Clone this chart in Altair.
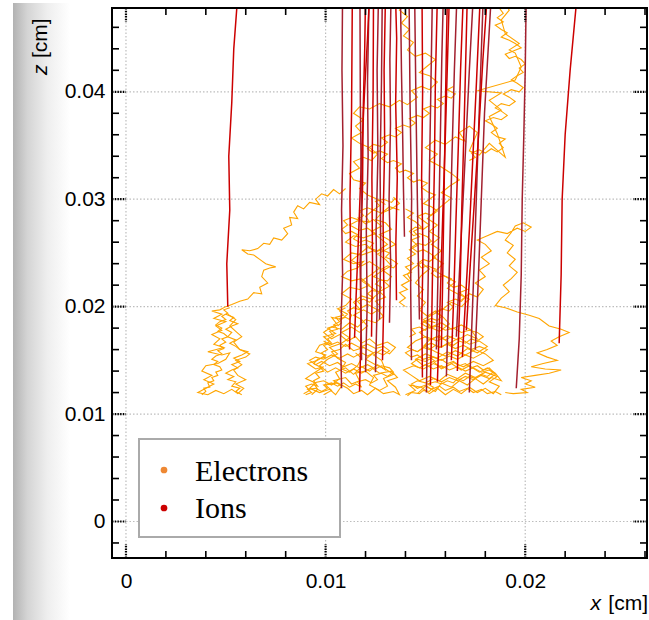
import altair as alt
import pandas as pd

# ---------------- axes / ticks (cm) ----------------
X_DOMAIN = [-0.0007, 0.0261]
Z_DOMAIN = [-0.0034, 0.0478]
X_MAJOR = [0.0, 0.01, 0.02]
Z_MAJOR = [0.0, 0.01, 0.02, 0.03, 0.04]
X_MINOR = [0.002, 0.004, 0.006, 0.008, 0.012, 0.014, 0.016, 0.018,
           0.022, 0.024, 0.026]
Z_MINOR = [-0.002, 0.002, 0.004, 0.006, 0.008, 0.012, 0.014, 0.016, 0.018,
           0.022, 0.024, 0.026, 0.028, 0.032, 0.034, 0.036, 0.038,
           0.042, 0.044, 0.046]

LEGEND_LABELS = ["Electrons", "Ions"]
LEGEND_COLORS = ["#ee8833", "#cc0000"]

# ---------------- electron drift paths (x, z in micrometres) ----------------
ELECTRON_1 = [(110,310),(107,305),(104,309),(101,303),(98,305),(95,300),(97,295),(92,297),
              (89,291),(86,294),(84,288),(86,282),(82,283),(83,276),(79,273),(81,268),(78,262),
              (74,264),(72,258),(69,259),(66,254),(62,252),(58,253),(61,249),(64,248),(67,244),
              (70,240),(75,237),(72,236),(69,234),(68,228),(71,222),(67,218),(68,212),(64,213),
              (61,207),(57,205),(53,202),(50,200),(47,197),(43,196),(48,193),(44,189),(50,186),
              (45,182),(48,178),(43,174),(47,170),(44,165),(49,162),(41,158),(48,155),(52,157),
              (50,151),(46,147),(40,145),(38,140),(43,136),(39,132),(44,128),(40,124),(36,120),
              (41,118),(45,122),(49,119),(53,123),(56,119),(59,124),(55,128),(60,132),(56,136),
              (54,141),(58,146),(55,150),(60,153),(62,156),(57,160),(54,167),(58,172),(55,177),
              (52,182),(55,188),(51,193)]
ELECTRON_2 = [(137,290),(132,293),(128,287),(124,290),(120,284),(122,279),(116,280),(112,276),
              (117,271),(121,273),(125,268),(119,264),(114,266),(110,260),(115,256),(120,258),
              (124,252),(118,248),(113,250),(109,244),(114,240),(119,242),(116,236),(111,233),
              (108,228),(113,224),(118,226),(122,220),(117,216),(112,218),(108,212),(113,207),
              (110,201),(106,198),(111,193),(108,188),(103,190),(106,183),(101,180),(105,175),
              (99,172),(102,167),(97,164),(95,158),(100,155),(96,150),(91,147),(95,142),(99,144),
              (94,138),(90,133),(95,129),(92,124),(97,120),(102,123),(105,118),(108,126),(104,131),
              (110,134),(113,128),(117,131),(115,138),(120,140),(124,134),(122,127),(127,122),
              (131,126),(129,133),(134,137),(130,142),(125,146),(120,151),(124,157),(119,162),
              (114,159),(110,165),(107,160),(103,158),(106,152),(110,148),(108,142),(112,139),
              (116,145),(118,152),(115,157)]
ELECTRON_3 = [(99,118),(103,122),(100,127),(106,129),(111,124),(114,119),(118,122),(121,118),
              (125,124),(129,119),(134,121),(137,118),(135,125),(131,131),(136,134),(133,140),
              (127,138),(123,143),(118,138),(114,142),(110,138),(105,143),(101,139),(97,145),
              (101,151),(106,156),(102,162),(108,166),(112,171),(108,176),(113,181),(117,176),
              (121,182),(118,188),(114,192),(119,197),(123,193),(128,199),(125,205),(130,209),
              (127,214),(132,219),(129,224),(124,228),(128,233),(133,238),(130,244),(126,249),
              (131,254),(135,258),(131,263),(127,267),(133,272),(130,278),(125,281),(128,287),
              (133,291),(137,296),(134,302)]
ELECTRON_4 = [(130,295),(126,300),(121,304),(117,310),(120,315),(114,318),(112,324),(117,329),
              (114,335),(119,339),(123,336),(126,342),(122,348),(117,352),(113,357),(118,362),
              (115,368),(119,374),(114,380),(117,386),(122,384),(127,389),(132,386),(137,392),
              (141,388),(146,395),(143,401),(148,405),(152,402),(156,409),(152,415),(147,418),
              (151,424),(155,430),(150,436),(145,433),(141,439),(144,446),(139,452),(142,458),
              (138,464),(141,470),(137,476),(140,482)]
ELECTRON_5 = [(140,118),(145,122),(142,127),(148,125),(152,119),(156,124),(160,118),(164,123),
              (168,119),(172,125),(176,120),(180,124),(184,119),(187,126),(182,130),(186,135),
              (180,139),(175,134),(170,138),(166,133),(161,137),(157,131),(152,135),(147,131),
              (143,136),(139,141),(144,145),(149,142),(154,147),(159,143),(164,148),(169,144),
              (174,149),(179,145),(184,150),(180,156),(175,160),(170,155),(165,159),(160,154),
              (155,158),(150,163),(146,158),(141,162),(145,168),(150,172),(156,168),(161,173),
              (166,169),(171,174),(176,170),(173,178),(168,183),(163,179),(158,185),(153,181),
              (149,188),(154,193),(159,198),(163,204),(168,200),(172,207),(166,212),(161,217),
              (165,223),(160,228),(155,233),(159,240),(154,246),(158,252),(153,258),(157,264),
              (152,270),(156,276),(151,282),(155,289),(159,295),(163,301),(158,306),(162,312),
              (167,318),(163,324),(158,330),(152,336),(156,342),(150,348),(155,355),(160,351),
              (165,358),(170,354),(167,362),(172,368),(176,362),(172,345),(177,341),(182,352),
              (190,339),(186,361),(182,377),(188,383),(182,392),(188,399),(176,401),(195,411),
              (198,423),(195,436),(192,439),(197,445),(190,454),(188,467),(192,476),(190,482)]
ELECTRON_6 = [(168,206),(172,212),(176,209),(179,216),(175,222),(180,228),(177,234),(182,240),
              (178,246),(183,252),(180,258),(176,262),(181,266),(186,270),(191,268),(196,273),
              (200,270),(203,274),(199,278),(195,275),(193,269),(190,262),(194,257),(191,250),
              (195,244),(192,238),(196,232),(193,226),(189,220),(192,214),(188,208),(185,201),
              (190,199),(196,195),(202,192),(207,189),(212,182),(218,179),(222,176),(217,172),
              (213,168),(216,164),(211,160),(206,157),(211,153),(216,150),(209,147),(203,144),
              (210,142),(218,141),(212,138),(205,136),(198,134),(203,131),(200,128),(205,125),
              (198,123),(201,120),(194,119),(190,120)]
ELECTRON_7 = [(146,119),(150,126),(155,121),(158,129),(163,125),(167,131),(171,127),(175,133),
              (179,128),(183,134),(188,131),(185,138),(181,143),(177,139),(172,145),(168,141),
              (163,147),(158,142),(154,149),(149,145),(145,151),(150,156),(156,152),(161,158),
              (166,154),(171,161),(176,157),(181,163),(177,168),(172,165),(167,171),(162,166),
              (157,173),(152,169),(147,176),(152,181),(157,177),(162,184),(159,190),(155,196),
              (151,191),(147,197),(150,204),(146,210),(149,216),(145,222),(148,229),(152,235),
              (148,241),(144,236),(141,230),(143,224)]
ELECTRON_8 = [(93,118),(96,123),(94,129),(99,131),(103,127),(107,133),(105,139),(110,143),
              (114,137),(118,144),(122,140),(126,146),(130,141),(128,150),(124,155),(128,160),
              (132,156),(135,162),(131,167),(126,164),(122,170),(118,166),(115,172),(111,168),
              (107,174),(103,170),(99,176),(103,181),(108,179),(112,185),(116,181),(120,188),
              (125,185),(129,191),(126,197),(121,202),(117,198),(114,204),(118,210),(123,207),
              (127,213),(122,219),(118,224),(123,230),(127,236),(122,242),(118,238),(113,243),
              (117,249),(121,255),(126,252),(131,258),(127,264),(123,270),(128,275),(124,281),
              (120,277),(116,283)]
ELECTRON_9 = [(38,118),(40,121),(39,124),(42,125),(41,129),(44,131),(43,134),(46,136),(45,139),
              (48,141),(47,144),(44,146),(46,149),(43,151),(45,154),(48,156),(46,159),(49,161),
              (47,164),(50,167),(48,170),(51,172),(49,175),(46,177),(48,180),(45,183),(47,186),
              (50,188),(48,191),(51,194),(49,197),(52,199)]
ELECTRON_10 = [(58,118),(55,121),(57,124),(53,126),(55,130),(51,132),(54,135),(50,138),(53,141),
               (56,143),(53,146),(57,149),(54,152),(58,155),(61,158),(57,160),(55,163),(52,166),
               (55,169),(51,172),(53,176),(50,179),(53,182),(56,184),(52,187),(54,190),(50,193)]
ELECTRON_11 = [(90,118),(93,120),(91,123),(95,124),(98,121),(101,124),(99,127),(103,129),
               (106,126),(109,129),(112,125),(115,128),(118,125),(116,130),(120,132),(123,129),
               (126,132),(124,136),(128,138),(131,135),(134,139),(132,143),(128,145),(125,142),
               (121,146),(117,143),(113,147),(109,144),(106,148),(102,145),(98,149),(95,146),
               (92,150),(95,153),(99,151),(103,155),(107,152),(111,156),(114,153),(118,157),
               (121,154),(125,158),(129,155),(132,159),(129,163),(125,161),(121,165),(117,162),
               (113,166),(110,163),(106,167),(102,164),(99,168)]
ELECTRON_12 = [(188,118),(185,121),(181,119),(178,123),(174,120),(171,124),(167,121),(164,125),
               (160,122),(157,126),(153,123),(150,127),(146,124),(143,128),(146,131),(150,129),
               (154,133),(158,130),(162,134),(166,131),(170,135),(174,132),(178,136),(182,133),
               (185,137),(182,141),(178,139),(174,143),(170,140),(166,144),(162,141),(158,145),
               (154,142),(150,146),(147,143),(143,147),(146,151),(150,149),(154,153),(158,150),
               (162,154),(166,151),(170,155),(174,152),(178,156),(181,160),(177,163),(173,160),
               (169,164),(165,161),(161,165),(157,162),(153,166),(149,163),(152,169),(156,172),
               (160,169),(164,173)]
ELECTRON_13 = [(140,200),(137,204),(140,208),(137,213),(141,216),(138,220),(142,224),(139,229),
               (143,232),(140,237),(144,240),(141,245),(145,249),(142,253),(146,257),(143,262),
               (147,265),(144,270),(148,274),(145,279),(141,283),(144,287),(140,291)]
ELECTRON_14 = [(106,182),(108,185),(107,189),(110,190),(112,188),(113,192),(111,196),(114,199),
               (117,197),(118,201),(116,205),(119,207),(122,204),(124,208),(121,212),(123,215),
               (127,214),(128,218),(125,221),(127,225),(131,224),(133,228),(130,232),(128,235),
               (131,238),(134,236),(136,240),(133,244),(130,246),(132,250),(128,253),(125,251),
               (122,255),(124,259),(120,262),(117,260),(114,263),(116,267),(113,270),(110,268),
               (108,272),(111,276),(109,280),(113,283),(116,281),(119,285),(117,289),(121,292),
               (124,290),(127,294),(125,298),(129,300),(133,297),(135,301)]
ELECTRON_15 = [(89,119),(92,122),(90,126),(93,128),(96,126),(94,131),(97,134),(95,138),(99,140),
               (97,144),(94,147),(96,151),(100,153),(98,157),(101,160),(99,164),(103,166),
               (101,170),(104,173),(102,177),(106,179),(104,183),(107,186),(105,190),(109,192),
               (107,196),(110,199)]
ELECTRON_16 = [(142,172),(145,175),(143,179),(147,181),(150,178),(152,183),(149,186),(153,189),
               (156,187),(158,191),(155,195),(158,198),(162,196),(164,200),(161,204),(165,207),
               (168,205),(170,209),(167,213),(171,216),(168,220),(164,218),(161,222),(163,226),
               (159,229),(156,227),(153,231),(155,235),(151,238),(148,236),(146,240),(149,244),
               (152,242),(155,246),(152,250),(149,253),(146,251),(143,255),(146,259),(150,257),
               (153,261),(151,265),(147,268),(144,266),(142,270),(145,274),(149,272),(152,276),
               (149,280),(146,284),(150,287),(153,285),(156,289),(153,293),(149,296),(152,300)]
ELECTRON_17 = [(152,300),(155,304),(151,307),(148,311),(151,315),(147,318),(144,316),(141,320),
               (144,324),(140,327),(137,325),(135,329),(138,333),(134,336),(131,334),(128,338),
               (131,342),(127,345),(124,343),(121,347),(124,351),(128,349),(131,353),(128,357),
               (132,360),(135,358),(138,362),(135,366),(139,369),(142,367),(145,371),(142,375),
               (146,378),(149,376),(152,380),(149,384),(153,387),(156,385),(159,389),(156,393),
               (160,396),(163,394),(165,398),(161,402),(164,405)]
ELECTRON_18 = [(172,336),(175,339),(173,343),(177,346),(180,343),(183,347),(186,344),(189,348),
               (187,352),(190,356),(186,358),(183,362),(186,366),(183,370),(180,373),(184,376),
               (188,374),(191,378),(188,382),(185,385),(188,389),(192,387),(195,391),(192,395),
               (189,398),(193,402),(197,400),(199,404),(196,408),(193,411),(196,415),(199,418),
               (197,422),(200,426),(198,430),(195,433),(192,431),(190,435),(194,438),(198,441),
               (195,445),(192,448),(188,451),(191,455),(188,458),(185,462),(189,465),(186,469),
               (189,473),(187,478),(190,482)]
ELECTRON_19 = [(141,117),(143,120),(147,119),(149,122),(152,121),(154,125),(151,128),(155,130),
               (158,128),(161,131),(164,129),(166,133),(169,131),(172,135),(175,133),(178,137),
               (181,135),(184,139),(182,143),(179,141),(176,145),(173,143),(170,147),(167,145),
               (164,149),(161,147),(158,151),(155,149),(152,153),(149,151),(146,155),(143,153),
               (140,157),(143,160),(146,158),(149,162),(152,160),(155,164),(158,162),(161,166),
               (164,164),(167,168),(170,166),(173,170),(176,168),(179,172),(176,176),(172,178),
               (168,176),(164,180),(160,178),(156,182),(152,180),(148,184),(151,187),(155,185)]
ELECTRON_PATHS = [ELECTRON_1, ELECTRON_2, ELECTRON_3, ELECTRON_4, ELECTRON_5, ELECTRON_6,
                  ELECTRON_7, ELECTRON_8, ELECTRON_9, ELECTRON_10, ELECTRON_11, ELECTRON_12,
                  ELECTRON_13, ELECTRON_14, ELECTRON_15, ELECTRON_16, ELECTRON_17, ELECTRON_18,
                  ELECTRON_19]

# ---------------- ion drift paths (x, z in micrometres) ----------------
ION_PATHS = [
    [(51,200),(50.5,240),(52,290),(51.5,340),(53,390),(54,440),(56,490)],
    [(108,124),(107.5,170),(108.5,230),(108,290),(108.7,350),(108.2,420),(108.5,490)],
    [(117,121),(117.8,180),(117.3,240),(118.5,310),(118.8,380),(119.6,440),(120,490)],
    [(120,139),(120.8,200),(120.4,270),(121.3,340),(121,410),(121.8,490)],
    [(114.5,171),(115.5,220),(116.8,280),(118,340),(119.5,400),(121,450),(122,490)],
    [(125,139),(125.8,200),(125.3,270),(126.2,340),(125.8,420),(126.5,490)],
    [(128.5,150),(129.2,210),(128.8,280),(129.6,350),(129.3,420),(130,490)],
    [(132,185),(132.6,240),(131.8,300),(132.5,370),(132.2,430),(132.8,490)],
    [(135.5,206),(135.2,260),(135.9,320),(135.1,390),(135.6,450),(135,490)],
    [(139.5,265),(139,310),(138.6,360),(138,420),(137.5,490)],
    [(148.5,134),(148.2,190),(148.8,250),(148.1,320),(148.6,400),(148.3,490)],
    [(150.5,120),(151,180),(151.6,250),(152,320),(152.7,400),(153.5,490)],
    [(152.5,127),(153.2,190),(153.8,260),(154.5,330),(155,410),(156,490)],
    [(155.5,160),(156.2,220),(156.8,290),(157.5,360),(158.2,430),(159,490)],
    [(158,162),(158.6,220),(159.2,290),(159.8,360),(160.4,430),(161,490)],
    [(160.5,135),(161.5,200),(162.4,270),(163.3,340),(164.5,420),(165.8,490)],
    [(163,150),(164.2,210),(165.3,280),(166.5,350),(167.6,420),(169,490)],
    [(165.5,172),(167,230),(168.6,290),(170.2,350),(172,420),(174,490)],
    [(168.5,153),(170.2,210),(172,270),(173.8,340),(175.6,410),(177.5,490)],
    [(172,120),(173.4,190),(174.8,260),(176,330),(177.5,410),(179,490)],
    [(170.5,178),(172.5,240),(174.6,300),(176.6,360),(178.8,430),(181,490)],
    [(195.5,124),(197,170),(198,230),(198.5,300),(199.3,360),(200,420),(200.5,490)],
    [(217,166),(218,230),(218.5,300),(220,360),(222.5,420),(226,490)],
    [(147,188),(146.4,250),(145.8,320),(145.2,400),(144.6,490)],
    [(123,172),(123.5,240),(123.2,320),(123.8,400),(124,490)],
    [(127,188),(127.6,250),(127.3,330),(128,410),(128.4,490)],
    [(112,160),(112.6,230),(112.2,300),(113,380),(113.4,490)],
    [(143,150),(142.6,220),(143.1,300),(142.3,390),(141.8,490)],
    [(166,140),(167.3,210),(168.2,290),(169.4,370),(171,490)],
    [(175,160),(176.6,230),(178,300),(179.6,380),(183,490)],
    [(156,130),(157.3,200),(158.6,280),(160,360),(162,490)],
    [(118,150),(117.6,220),(118,300),(117.4,390),(117.2,490)],
]

# ---------------- build tables ----------------
UM_TO_CM = 1e-4
e_rows = []
for i, path in enumerate(ELECTRON_PATHS):
    for j, (x, z) in enumerate(path):
        e_rows.append({"path": f"e{i}", "order": j, "x": x * UM_TO_CM, "z": z * UM_TO_CM})
df_e = pd.DataFrame(e_rows)

ION_SHADES = ["#cc0000", "#a3202f"]
i_rows = []
for i, path in enumerate(ION_PATHS):
    for j, (x, z) in enumerate(path):
        i_rows.append({"path": f"i{i}", "order": j, "x": x * UM_TO_CM, "z": z * UM_TO_CM,
                       "col": ION_SHADES[i % 2]})
df_i = pd.DataFrame(i_rows)

W, H = 535, 550
LABEL_FONT = "Liberation Sans"
xs = alt.Scale(domain=X_DOMAIN, nice=False, zero=False)
zs = alt.Scale(domain=Z_DOMAIN, nice=False, zero=False)
AX_X = alt.Axis(values=X_MAJOR, format="~g", grid=False, domain=False, ticks=False,
                labelFont=LABEL_FONT, labelFontSize=21, labelColor="black",
                labelPadding=12, title=None, zindex=1)
AX_Z = alt.Axis(values=Z_MAJOR, format="~g", grid=False, domain=False, ticks=False,
                labelFont=LABEL_FONT, labelFontSize=21, labelColor="black",
                labelPadding=7, title=None, zindex=1)
X_ENC = alt.X("x:Q", scale=xs, axis=AX_X)
Z_ENC = alt.Y("z:Q", scale=zs, axis=AX_Z)

# gray shading on the far left
shade = alt.Chart(pd.DataFrame({"a": [0]})).mark_rect(
    color=alt.Gradient(gradient="linear",
                       stops=[alt.GradientStop(color="#b2b2b2", offset=0),
                              alt.GradientStop(color="#d4d4d4", offset=0.25),
                              alt.GradientStop(color="#eeeeee", offset=0.6),
                              alt.GradientStop(color="#ffffff", offset=1)],
                       x1=0, x2=1, y1=0, y2=0)
).encode(x=alt.value(-99), x2=alt.value(-42), y=alt.value(-5), y2=alt.value(612))

grid_x = alt.Chart(pd.DataFrame({"x": X_MAJOR})).mark_rule(
    color="#bdbdbd", strokeDash=[1.5, 2], strokeWidth=1.2
).encode(x=X_ENC, y=alt.value(0), y2=alt.value(H))
grid_z = alt.Chart(pd.DataFrame({"z": Z_MAJOR})).mark_rule(
    color="#bdbdbd", strokeDash=[1.5, 2], strokeWidth=1.2
).encode(y=Z_ENC, x=alt.value(0), x2=alt.value(W))

electrons = alt.Chart(df_e).mark_line(color="#ffa500", strokeWidth=1.1, clip=True).encode(
    x=X_ENC, y=Z_ENC, detail="path:N", order="order:Q")

ions = alt.Chart(df_i).mark_line(strokeWidth=1.5, clip=True).encode(
    x=X_ENC, y=Z_ENC, detail="path:N", order="order:Q",
    color=alt.Color("col:N", scale=None))

frame = alt.Chart(pd.DataFrame({"a": [0]})).mark_rect(
    fillOpacity=0, stroke="black", strokeWidth=2
).encode(x=alt.value(0), x2=alt.value(W), y=alt.value(0), y2=alt.value(H))


def xticks(vals, y0, y1, major):
    kw = dict(color="black", strokeWidth=2.2 if major else 1.6)
    if major:
        kw["strokeDash"] = [1.5, 1.2]
    return alt.Chart(pd.DataFrame({"x": vals})).mark_rule(**kw).encode(
        x=X_ENC, y=alt.value(y0), y2=alt.value(y1))


def zticks(vals, x0, x1, major):
    kw = dict(color="black", strokeWidth=2.2 if major else 1.6)
    if major:
        kw["strokeDash"] = [1.5, 1.2]
    return alt.Chart(pd.DataFrame({"z": vals})).mark_rule(**kw).encode(
        y=Z_ENC, x=alt.value(x0), x2=alt.value(x1))


ticks = [
    xticks(X_MINOR, H, H - 7, False), xticks(X_MAJOR, H, H - 14, True),
    xticks(X_MINOR, 0, 7, False), xticks(X_MAJOR, 0, 14, True),
    zticks(Z_MINOR, 0, 7, False), zticks(Z_MAJOR, 0, 14, True),
    zticks(Z_MINOR, W, W - 7, False), zticks(Z_MAJOR, W, W - 14, True),
]


def txt(s, pos, **kw):
    enc = {k: alt.value(v) for k, v in pos.items()}
    return alt.Chart(pd.DataFrame({"t": [s]})).mark_text(**kw).encode(text="t:N", **enc)


titles = [
    txt("z", {"x": -71, "y": 67}, font=LABEL_FONT, fontSize=21, fontStyle="italic",
        angle=270, align="left", baseline="middle", color="black"),
    txt("[cm]", {"x": -71, "y": 50}, font=LABEL_FONT, fontSize=21,
        angle=270, align="left", baseline="middle", color="black"),
    txt("x", {"x": 489, "y": 602}, font=LABEL_FONT, fontSize=21, fontStyle="italic",
        align="right", baseline="alphabetic", color="black"),
    txt("[cm]", {"x": 536, "y": 602}, font=LABEL_FONT, fontSize=21,
        align="right", baseline="alphabetic", color="black"),
]

legend_box = alt.Chart(pd.DataFrame({"a": [0]})).mark_rect(
    fill="white", stroke="#aaaaaa", strokeWidth=2
).encode(x=alt.value(27), x2=alt.value(228), y=alt.value(431), y2=alt.value(529))
legend_layers = [legend_box]
for k, (lab, col) in enumerate(zip(LEGEND_LABELS, LEGEND_COLORS)):
    legend_layers.append(
        alt.Chart(pd.DataFrame({"t": [lab]})).mark_circle(size=45, opacity=1, color=col).encode(
            x=alt.value(52), y=alt.value(462 + 38 * k)))
    legend_layers.append(
        txt(lab, {"x": 83, "y": 473 + 37 * k}, font="Liberation Serif", fontSize=30,
            align="left", baseline="alphabetic", color="black"))

chart = alt.layer(
    shade, grid_x, grid_z, electrons, ions, frame, *ticks, *legend_layers, *titles
).properties(
    width=W, height=H,
    autosize=alt.AutoSizeParams(type="none"),
    padding={"left": 112, "top": 8, "right": 2, "bottom": 62},
).configure_view(stroke=None)

chart.save("out.html", embed_options={"renderer": "svg", "actions": False})
